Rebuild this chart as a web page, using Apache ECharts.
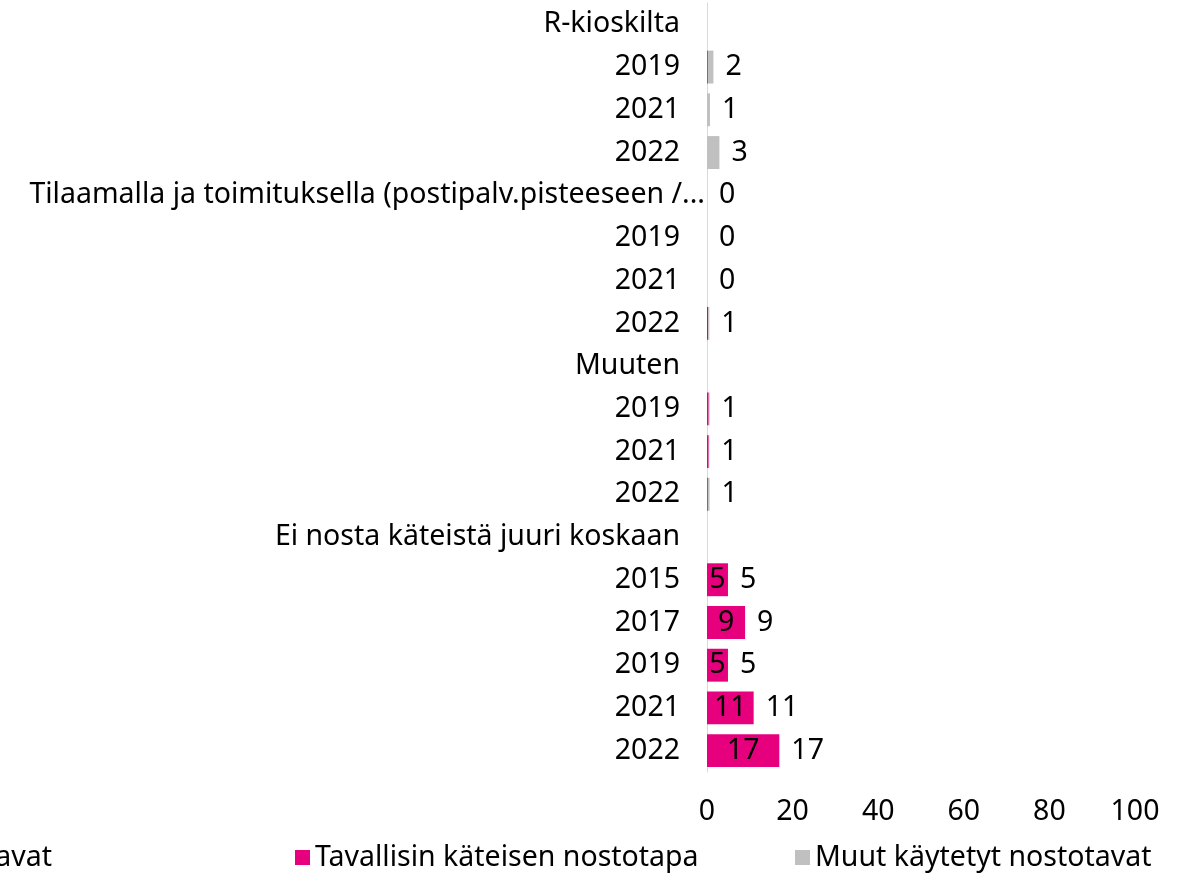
<!DOCTYPE html>
<html>
<head>
<meta charset="utf-8">
<script src="https://cdn.jsdelivr.net/npm/echarts@6/dist/echarts.min.js"></script>
<style>
  html, body { margin: 0; padding: 0; background: #fff; }
  #chart { width: 1182px; height: 873px; }
</style>
</head>
<body>
<div id="chart"></div>
<script>
// categories, top to bottom
const categories = [
  'R-kioskilta', '2019', '2021', '2022',
  'Tilaamalla ja toimituksella (postipalv.pisteeseen /...', '2019', '2021', '2022',
  'Muuten', '2019', '2021', '2022',
  'Ei nosta käteistä juuri koskaan', '2015', '2017', '2019', '2021', '2022'
]
// Tavallisin käteisen nostotapa
const usual = [
  null, 0.2, 0, 0,
  0, 0, 0, 0.3,
  null, 0.4, 0.4, 0.2,
  null, 4.9, 8.9, 4.9, 10.9, 16.9
]
// Muut käytetyt nostotavat
const other = [
  null, 1.3, 0.7, 2.9,
  0, 0, 0, 0.25,
  null, 0.2, 0.15, 0.4,
  null, 0, 0, 0, 0, 0
]
const xTicks = [0, 20, 40, 60, 80, 100]

const totals = usual.map((v, i) => (v === null && other[i] === null ? null : (v || 0) + (other[i] || 0)))

const font = '"Noto Sans", sans-serif'
const fs = 28.5
const chart = echarts.init(document.getElementById('chart'))

chart.setOption({
  animation: false,
  textStyle: { fontFamily: font },
  grid: {
    left: 707,
    right: 47,
    top: 3,
    bottom: 101,
    containLabel: false
  },
  xAxis: {
    type: 'value',
    min: xTicks[0],
    max: xTicks[xTicks.length - 1],
    interval: 20,
    splitLine: { show: false },
    axisLine: { show: false },
    axisTick: { show: false },
    axisLabel: { color: '#000', fontSize: fs, margin: 25, fontFamily: font }
  },
  yAxis: {
    type: 'category',
    inverse: true,
    data: categories,
    axisTick: { show: false },
    axisLine: { show: true, lineStyle: { color: '#d9d9d9', width: 1 } },
    axisLabel: {
      color: '#000',
      fontSize: fs,
      margin: 27,
      fontFamily: font,
      formatter: v => (v.length > 40 ? '{long|' + v + '}' : v),
      rich: {
        long: { color: '#000', fontSize: fs, fontFamily: font, padding: [0, -25, 0, 0] }
      }
    }
  },
  legend: [
    {
      data: ['Tavallisin käteisen nostotapa'],
      left: 290, top: 838,
      icon: 'rect', itemWidth: 15, itemHeight: 15,
      textStyle: { color: '#000', fontSize: fs, fontFamily: font }
    },
    {
      data: ['Muut käytetyt nostotavat'],
      left: 790, top: 838,
      icon: 'rect', itemWidth: 15, itemHeight: 15,
      textStyle: { color: '#000', fontSize: fs, fontFamily: font }
    },
    {
      data: ['Kaikki käytetyt nostotavat'],
      right: 1125, top: 838,
      icon: 'rect', itemWidth: 15, itemHeight: 15,
      textStyle: { color: '#000', fontSize: fs, fontFamily: font }
    }
  ],
  series: [
    {
      name: 'Tavallisin käteisen nostotapa',
      type: 'bar',
      stack: 'a',
      barCategoryGap: '23%',
      data: usual,
      itemStyle: { color: '#e6007e' },
      label: {
        show: true,
        position: 'inside',
        color: '#000',
        fontSize: fs,
        fontFamily: font,
        formatter: p => (p.value >= 3 ? Math.round(p.value) : '')
      }
    },
    {
      name: 'Muut käytetyt nostotavat',
      type: 'bar',
      stack: 'a',
      data: other,
      itemStyle: { color: '#c0c0c0' }
    },
    {
      name: 'Kaikki käytetyt nostotavat',
      type: 'bar',
      barGap: '-100%',
      data: totals,
      itemStyle: { color: 'rgba(0,0,0,0)' },
      label: {
        show: true,
        position: 'right',
        distance: 12,
        color: '#000',
        fontSize: fs,
        fontFamily: font,
        formatter: p => (p.value === null || p.value === undefined ? '' : Math.round(p.value))
      }
    }
  ]
})
</script>
</body>
</html>
